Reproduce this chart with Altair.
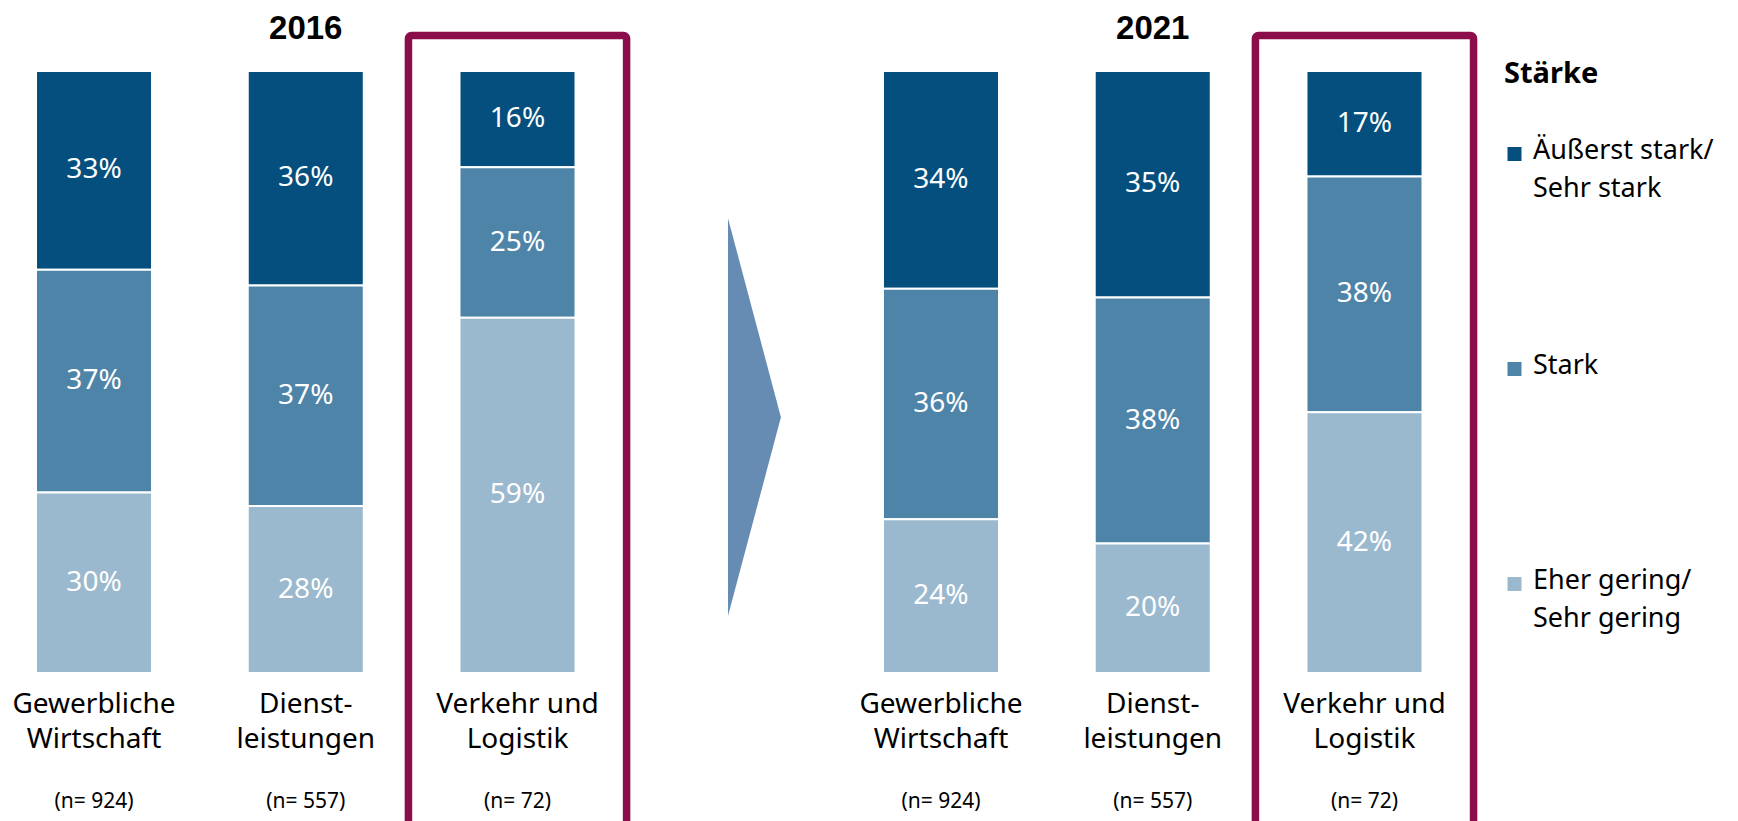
import altair as alt
import pandas as pd

FONT = "Noto Sans"
TITLE_FONT = "Liberation Sans"

years = ["2016", "2021"]
categories = ["Gewerbliche\nWirtschaft", "Dienst-\nleistungen", "Verkehr und\nLogistik"]
sample_sizes = [924, 557, 72]
highlighted = "Verkehr und\nLogistik"
levels = ["Äußerst stark/Sehr stark", "Stark", "Eher gering/Sehr gering"]
level_colors = ["#044f7e", "#4f84a9", "#9bb9ce"]

sehr_stark_2016 = [33, 36, 16]
stark_2016 = [37, 37, 25]
gering_2016 = [30, 28, 59]
sehr_stark_2021 = [34, 35, 17]
stark_2021 = [36, 38, 38]
gering_2021 = [24, 20, 42]

values = {
    "2016": [sehr_stark_2016, stark_2016, gering_2016],
    "2021": [sehr_stark_2021, stark_2021, gering_2021],
}

gap_slot = "→"
slot_domain = [f"2016|{c}" for c in categories] + [gap_slot] + [f"2021|{c}" for c in categories]

rows = []
for y in years:
    for li, lev in enumerate(levels):
        for ci, c in enumerate(categories):
            v = values[y][li][ci]
            rows.append({"slot": f"{y}|{c}", "level": lev, "order": len(levels) - li,
                         "value": v, "label": f"{v}%"})
bar_df = pd.DataFrame(rows)

cat_df = pd.DataFrame([{"slot": f"{y}|{c}", "cat": c, "n": f"(n= {n})"}
                       for y in years for c, n in zip(categories, sample_sizes)])
box_df = cat_df[cat_df["cat"] == highlighted]
year_df = pd.DataFrame([{"slot": f"{y}|{categories[1]}", "year": y} for y in years])

# arrow between the two periods (in slot-step units / share units)
arrow_df = pd.DataFrame({"ax": [3.268, 3.518], "ay": [0.7555, 0.425], "ay2": [0.0946, 0.425]})

W, H = 1386.5, 602
PAD_INNER = 0.452
xscale = alt.Scale(type="band", domain=slot_domain, paddingInner=PAD_INNER, paddingOuter=0)
X = alt.X("slot:N", scale=xscale, axis=None)
yscale = alt.Scale(domain=[0, 1], nice=False, zero=False)

stacked = alt.Chart(bar_df).transform_stack(
    stack="value", groupby=["slot"], as_=["y0", "y1"], offset="normalize",
    sort=[alt.SortField("order", "ascending")]
).transform_calculate(mid="(datum.y0 + datum.y1) / 2")

bars = stacked.mark_bar(stroke="white", strokeWidth=2).encode(
    x=X,
    y=alt.Y("y0:Q", scale=yscale, axis=None),
    y2="y1:Q",
    color=alt.Color("level:N", scale=alt.Scale(domain=levels, range=level_colors),
                    legend=alt.Legend(
                        title="Stärke", orient="none", legendX=1468, legendY=-11.5,
                        direction="vertical", padding=0,
                        titleFont=FONT, titleFontSize=29, titleFontWeight="bold", titleColor="black",
                        titlePadding=52,
                        labelFont=FONT, labelFontSize=27, labelColor="black", labelLimit=400,
                        labelBaseline="alphabetic", labelOffset=5,
                        labelExpr="split(replace(datum.label, '/', '/|'), '|')",
                        symbolType="square", symbolSize=196, symbolStrokeWidth=0, symbolOffset=-3,
                        rowPadding=149, gridAlign="all")),
)

bar_text = stacked.mark_text(font=FONT, fontSize=28, color="white", baseline="middle").encode(
    x=X, y=alt.Y("mid:Q", scale=yscale, axis=None), text="label:N")

boxes = alt.Chart(box_df).mark_bar(
    fill="white", fillOpacity=0, stroke="#8b0e4a", strokeWidth=7.5, cornerRadius=3,
    width=alt.RelativeBandSize(1.88)
).encode(x=X, y=alt.value(-35.5), y2=alt.value(H + 160))

cat_text = alt.Chart(cat_df).mark_text(
    font=FONT, fontSize=28, color="black", baseline="alphabetic", lineBreak="\n", lineHeight=34.5
).encode(x=X, y=alt.value(642), text="cat:N")

n_text = alt.Chart(cat_df).mark_text(
    font=FONT, fontSize=21, color="black", baseline="middle"
).encode(x=X, y=alt.value(731), text="n:N")

year_text = alt.Chart(year_df).mark_text(
    font=TITLE_FONT, fontSize=33, fontWeight="bold", color="black", baseline="middle"
).encode(x=X, y=alt.value(-42), text="year:N")

arrow = alt.Chart(arrow_df).mark_area(color="#668cb3").encode(
    x=alt.X("ax:Q", scale=alt.Scale(domain=[0, len(slot_domain) - PAD_INNER], nice=False, zero=False), axis=None),
    y=alt.Y("ay:Q", scale=yscale, axis=None),
    y2="ay2:Q",
)

chart = alt.layer(boxes, bars, bar_text, cat_text, n_text, year_text, arrow).resolve_scale(
    x="independent"
).properties(
    width=W, height=H,
    autosize=alt.AutoSizeParams(type="none"),
    padding={"left": 28, "top": 63, "right": 307.5, "bottom": 148},
).configure(
    background="white",
    view=alt.ViewConfig(stroke=None),
    style={"guide-label": {"dy": 5, "lineHeight": 38}},
)

chart.save("out.html", embed_options={"renderer": "svg", "actions": False})
